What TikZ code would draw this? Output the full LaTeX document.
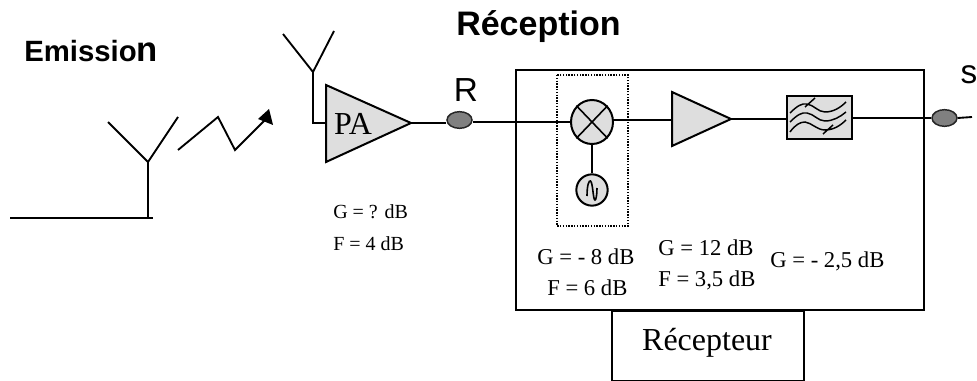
\documentclass[tikz,border=0pt]{standalone}
\usepackage{fontspec}
\usetikzlibrary{shapes.geometric}
\setmainfont{Liberation Serif}
\newfontfamily\arialf{Liberation Sans}
\begin{document}
\begin{tikzpicture}[x=0.75pt,y=-0.75pt,
  wire/.style={line width=1.4pt,black},
  shapegray/.style={draw=black,fill=black!13,line width=1.5pt,line join=miter},
  port/.style={draw=black!85,fill=black!50,line width=1.1pt,ellipse,minimum width=18.75pt,minimum height=12.5pt,inner sep=0pt},
  val/.style={font=\fontsize{17pt}{20pt}\selectfont,inner sep=0pt,anchor=base west},
  valsmall/.style={font=\fontsize{15pt}{18pt}\selectfont,inner sep=0pt,anchor=base west},
  head/.style={inner sep=0pt,anchor=base west}]
\useasboundingbox (0,0) rectangle (977,381);
% receiver frame
\node[draw,line width=1.5pt,minimum width=306.5pt,minimum height=180pt,inner sep=0pt,anchor=north west] (frame) at (514.5,69) {};
\node[draw,line width=1.5pt,minimum width=144pt,minimum height=52.5pt,inner sep=0pt,anchor=north west] (rx) at (611,310) {};
\node[inner sep=0pt,anchor=base,font=\fontsize{24pt}{28pt}\selectfont] (rxl) at (707,350) {Récepteur};
% headings
\node[head,font=\arialf\bfseries\fontsize{22pt}{26pt}\selectfont] (em) at (24,62) {Emissio\fontsize{26pt}{26pt}\selectfont n};
\node[head,font=\arialf\bfseries\fontsize{25.5pt}{30pt}\selectfont] (re) at (456,36) {Réception};
% emission antenna
\coordinate (a1) at (148,162);
\coordinate (a1g) at (148,218);
\coordinate (a1e) at (10,218);
\coordinate (a1f) at (153,218);
\draw[wire] (108,122) -- (a1) -- (178,117);
\draw[wire] (a1) -- (a1g);
\draw[line width=1.6pt,black] (a1e) -- (a1f);
% radio link
\draw[wire] (178,150) -- (218,117) -- (235,150) -- (266,119);
\fill[black] (269,109) -- (258,119) -- (273,125) -- cycle;
% PA
\coordinate (a2) at (313,72);
\coordinate (pain) at (326,123);
\draw[wire] (283,34) -- (a2) -- (334,31);
\draw[wire] (a2) |- (pain);
\draw[shapegray] (326,85) -- (411,123) -- (326,162) -- cycle;
\coordinate (paout) at (411,123);
\node[inner sep=0pt,anchor=base,font=\fontsize{24pt}{26pt}\selectfont] (pa) at (353,135) {PA};
% ports
\node[port] (R) at (459.5,120) {};
\node[inner sep=0pt,anchor=base,font=\arialf\fontsize{25pt}{28pt}\selectfont] (rl) at (466,102) {R};
\node[port] (S) at (944.5,118) {};
\node[inner sep=0pt,anchor=base,font=\arialf\fontsize{25pt}{28pt}\selectfont] (sl) at (969,84) {s};
\coordinate (send) at (972,117);
% mixer
\draw[line width=1.1pt,densely dotted] (557,75) rectangle (628,226);
\node[draw=black,fill=black!13,line width=1.5pt,ellipse,minimum width=31.5pt,minimum height=33pt,inner sep=0pt] (mix) at (592,122) {};
\draw[line width=1.2pt,black] (mix.north west) -- (mix.south east) (mix.north east) -- (mix.south west);
\node[draw=black,fill=black!13,line width=1.5pt,circle,minimum size=23.5pt,inner sep=0pt] (lo) at (592,190) {};
\draw[line width=1.2pt] (587,196) .. controls (587,185) and (589,180) .. (590.5,181) .. controls (593,183) and (593,200) .. (595,200) .. controls (596,200) and (597,195) .. (597,188);
\draw[wire] (mix) -- (lo);
% amplifier
\draw[shapegray] (672,92) -- (731,119) -- (672,146) -- cycle;
\coordinate (ampin) at (672,120);
\coordinate (ampout) at (731,119);
% filter
\node[draw=black,fill=black!13,line width=1.5pt,minimum width=48.75pt,minimum height=32.25pt,inner sep=0pt,anchor=north west] (filt) at (786,95) {};
\draw[line width=1.1pt,black]
 (790,113) .. controls (797,106) and (802,103) .. (807,104) .. controls (814,105) and (818,112) .. (825,112) .. controls (833,112) and (840,108) .. (846,102)
 (790,122) .. controls (797,115) and (802,112) .. (807,113) .. controls (814,114) and (818,121) .. (825,121) .. controls (833,121) and (840,117) .. (846,112)
 (790,132) .. controls (795,125) and (800,122) .. (805,122) .. controls (812,123) and (817,130) .. (825,130) .. controls (833,130) and (840,126) .. (846,120)
 (805,107) -- (815,98)
 (823,134) -- (833,125);
% wires
\draw[wire] (paout) -- (paout -| R.west);
\draw[wire] (R.east |- mix.west) -- (mix.west);
\draw[wire] (mix.east |- ampin) -- (ampin);
\draw[wire] (ampout) -- (filt.west |- ampout);
\draw[wire] (filt.east |- S) -- (S.west);
\draw[wire] (S.east) -- (send);
% values
\node[valsmall] (v1) at (333,218) {G = ? dB};
\node[valsmall] (v2) at (333,250) {F = 4 dB};
\node[val] (v3) at (537,264) {G = - 8 dB};
\node[val] (v4) at (547,295) {F = 6 dB};
\node[val] (v5) at (658,255) {G = 12 dB};
\node[val] (v6) at (658,286) {F = 3,5 dB};
\node[val] (v7) at (770,267) {G = - 2,5 dB};
\end{tikzpicture}
\end{document}
